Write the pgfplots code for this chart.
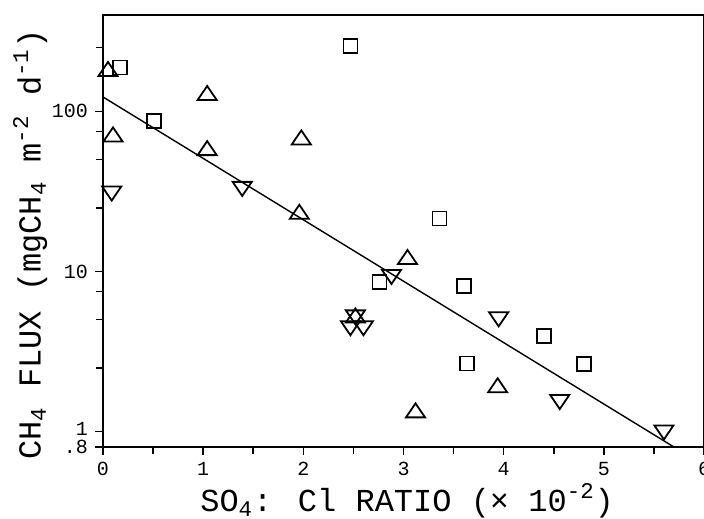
\documentclass[border=0pt]{standalone}
\usepackage{pgfplots}
\pgfplotsset{compat=1.18}
\usepackage{fontspec}
\setmainfont{Liberation Mono}
\begin{document}
\begin{tikzpicture}
\begin{axis}[
  width=300.5pt, height=216pt, scale only axis,
  xmin=0, xmax=6, ymode=log, ymin=0.8, ymax=400,
  xtick={0,1,2,3,4,5,6}, minor xtick={0.5,1.5,2.5,3.5,4.5,5.5},
  ytick={0.8,1,10,100}, yticklabels={\raisebox{-2pt}{.8},\raisebox{3pt}{1},10,100},
  minor ytick={2.5,5,7.5,25,50,75,250},
  tick pos=left, tick align=outside,
  major tick length=4pt, minor tick length=3.5pt,
  every tick/.style={black, line width=0.8pt},
  axis line style={line width=1pt},
  ticklabel style={font=\fontsize{10}{12}\selectfont},
  /pgf/number format/assume math mode=true,
  xlabel={SO\textsubscript{4}: Cl RATIO  (\texttimes{} 10\textsuperscript{-2})},
  ylabel={CH\textsubscript{4} FLUX (mgCH\textsubscript{4} m\textsuperscript{-2} d\textsuperscript{-1})},
  label style={font=\fontsize{16}{19}\selectfont},
  xlabel style={at={(axis description cs:0.506,-0.125)}, anchor=center},
  ylabel style={at={(axis description cs:-0.121,0.468)}, anchor=center, rotate=0},
  clip=true,
]
\addplot[black, line width=0.7pt, no marks] coordinates {(0,123) (5.70,0.8)};
\addplot[only marks, mark=square, mark size=3.5pt, mark options={black, line width=0.9pt, fill=none}]
coordinates {(0.17,188) (0.51,87) (2.47,256) (2.76,8.6) (3.36,21.4) (3.60,8.1) (3.63,2.66) (4.40,3.94) (4.80,2.64)};
\addplot[only marks, mark=triangle, mark size=5.5pt, mark options={black, line width=0.9pt, fill=none, yscale=0.85}]
coordinates {(0.05,178) (0.10,69.4) (1.04,126) (1.04,57) (1.96,22.8) (1.98,66.5) (2.52,5.13) (3.04,11.9) (3.12,1.31) (3.94,1.88)};
\addplot[only marks, mark=triangle, mark size=5.5pt, mark options={black, line width=0.9pt, fill=none, yscale=0.85, rotate=180}]
coordinates {(0.087,31.7) (1.39,33.9) (2.47,4.57) (2.60,4.57) (2.52,5.34) (2.88,9.55) (3.95,5.19) (4.56,1.58) (5.60,1.02)};
\coordinate (sw) at (rel axis cs:0,0);
\coordinate (ne) at (rel axis cs:1,1);
\end{axis}
\pgfresetboundingbox
\path ([shift={(-51.5pt,-35.5pt)}]sw) rectangle ([shift={(0pt,7.5pt)}]ne);
\end{tikzpicture}
\end{document}
